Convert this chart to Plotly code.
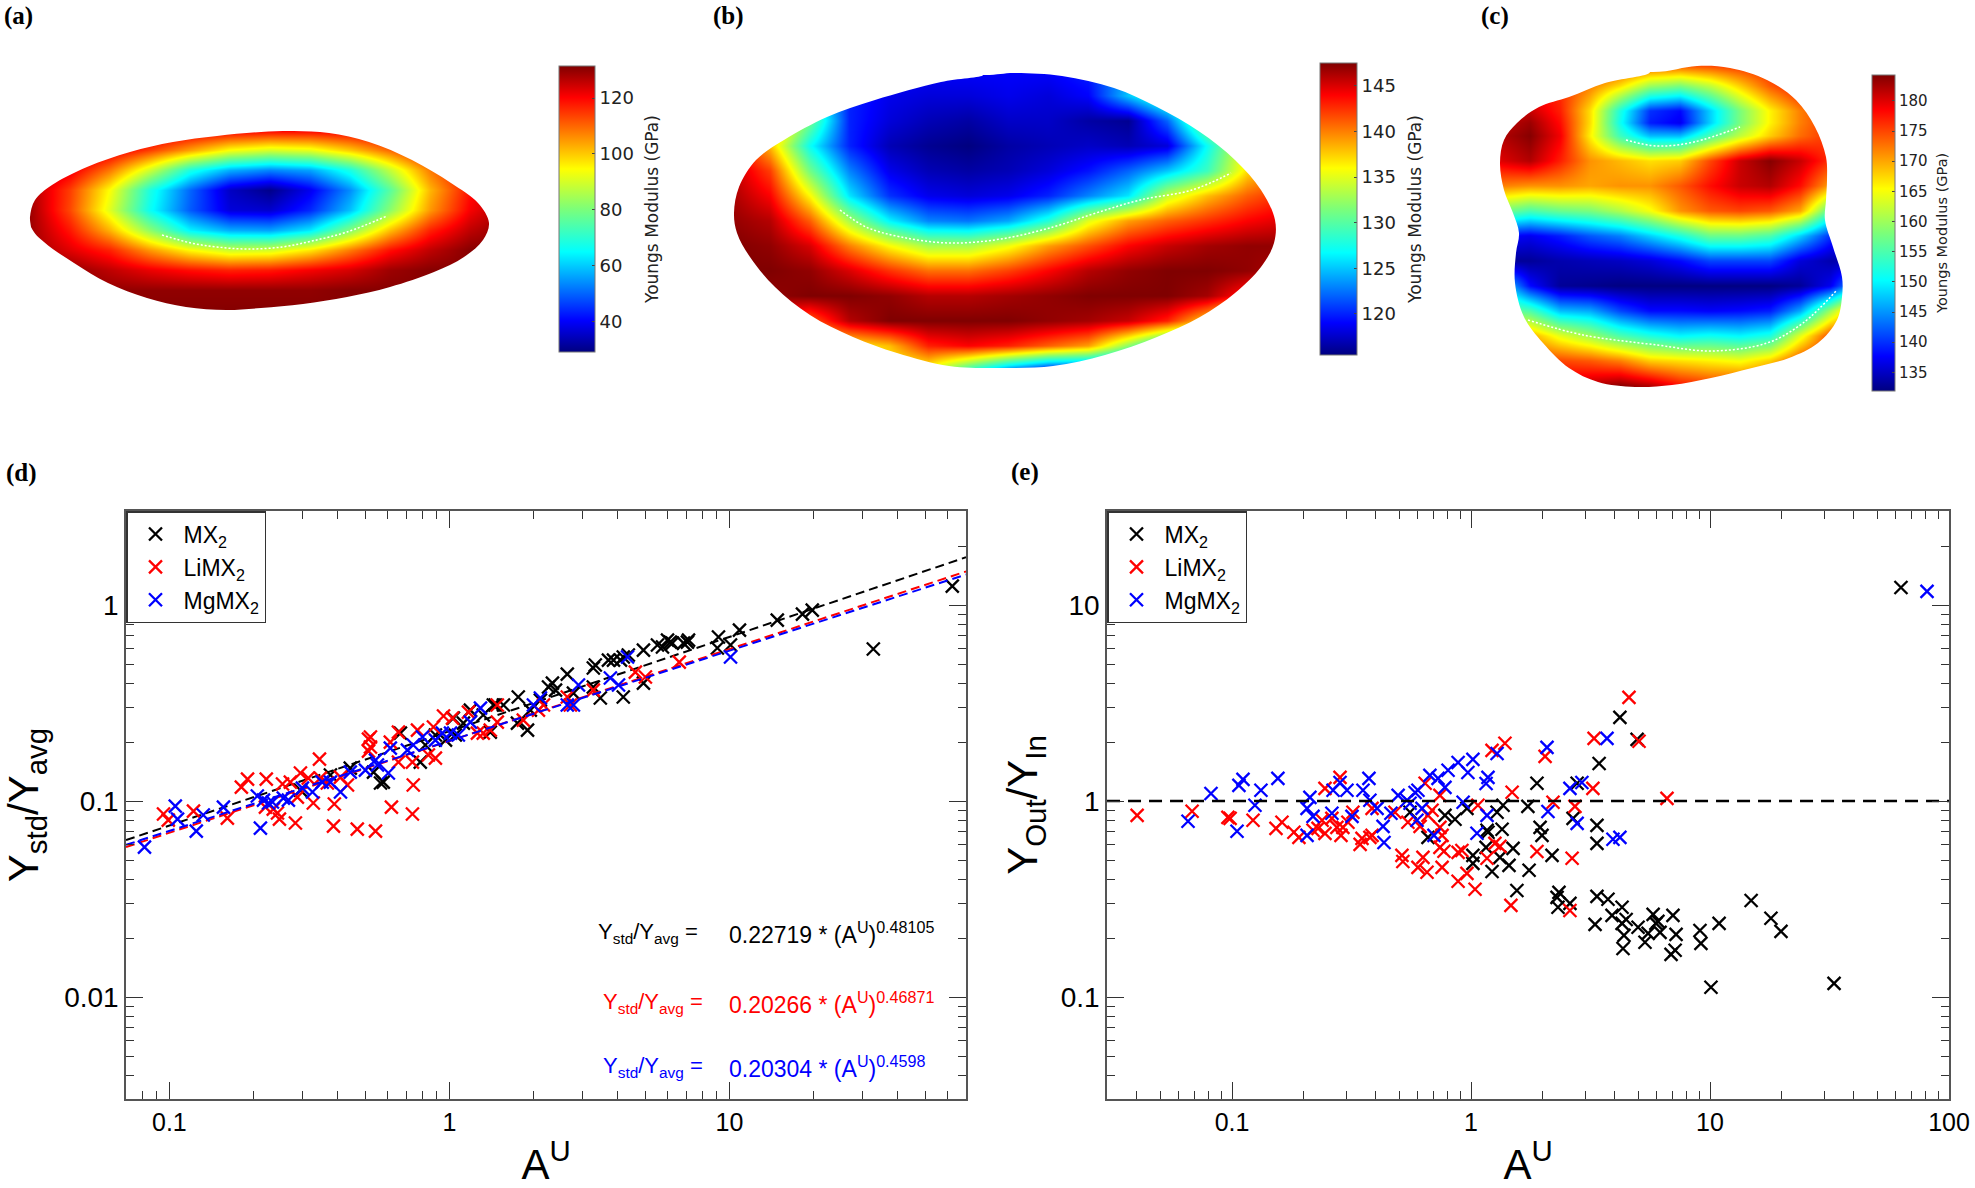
import numpy as np
import plotly.graph_objects as go

W, H = 1975, 1188

# jet colour map
jet = [[0, '#000080'], [0.11, '#0000ff'], [0.35, '#00ffff'], [0.5, '#7cff79'],
       [0.64, '#ffff00'], [0.89, '#ff0000'], [1, '#800000']]

# Top row: Young's modulus (GPa)
a_cols = [30, 70, 110, 150, 190, 230, 270, 310, 350, 390, 430, 470, 510]
a_rows = [130, 150, 170, 190, 210, 230, 250, 270, 290, 310]
a_z = [
    [131, 131, 130, 128, 124, 122, 121, 121, 122, 125, 129, 131, 131],
    [131, 129, 123, 114, 104, 94, 90, 92, 100, 110, 121, 127, 131],
    [129, 122, 108, 89, 68, 57, 53, 56, 68, 88, 108, 121, 129],
    [128, 114, 94, 68, 50, 35, 30, 39, 54, 76, 102, 119, 128],
    [129, 113, 91, 66, 49, 37, 36, 44, 59, 82, 105, 121, 129],
    [129, 118, 102, 82, 64, 57, 56, 63, 81, 101, 117, 126, 131],
    [129, 123, 117, 105, 95, 89, 90, 97, 108, 119, 126, 131, 131],
    [131, 130, 126, 122, 119, 117, 118, 121, 124, 129, 131, 131, 131],
    [131, 131, 130, 130, 130, 130, 130, 130, 131, 131, 131, 131, 131],
    [131, 131, 131, 131, 131, 131, 131, 131, 131, 131, 131, 131, 131],
]
a_edge_x = [30, 35, 52, 87, 130, 173, 217, 261, 294, 329, 369, 412, 451, 478, 489, 483, 464, 434, 390, 347, 303, 261, 226, 186, 147, 108, 74, 44, 31]
a_edge_y = [217, 200, 185, 167, 152, 142, 136, 132, 131, 133, 142, 160, 183, 203, 223, 240, 257, 272, 287, 297, 304, 308, 310, 307, 298, 283, 263, 242, 227]
a_seam_x = [162, 191, 217, 247, 282, 312, 347, 387]
a_seam_y = [235, 243, 247, 249, 247, 241, 232, 216]

b_cols = [730, 770, 810, 849, 889, 928, 968, 1008, 1048, 1088, 1128, 1167, 1207, 1247, 1287]
b_rows = [70, 95, 120, 145, 170, 195, 220, 245, 270, 295, 320, 345, 370]
b_z = [
    [136, 136, 125, 119, 119, 119, 119, 119, 119, 120, 124, 128, 130, 134, 136],
    [140, 136, 128, 120, 118.5, 118, 118, 118.5, 118, 119, 125, 130, 133, 136, 140],
    [143, 140, 131, 120, 118, 117, 116.5, 117.5, 117.5, 116.5, 116, 122, 133, 138, 142],
    [145, 138, 127, 120, 117, 116, 115.5, 116.5, 117, 117.5, 117, 118, 127, 136, 142],
    [146, 142, 131, 123, 118.5, 117, 116.5, 117, 118, 119.5, 122, 125, 129, 137, 141],
    [146.5, 144, 136, 126, 120.5, 118.5, 118, 118.5, 120, 123, 126, 134, 138, 141, 143],
    [147, 146, 141, 133, 126.5, 123, 122.5, 124, 128, 135, 139, 141, 142.5, 144, 145],
    [147.5, 147, 145, 140, 136, 133, 133, 135.5, 139, 141.5, 144, 145.5, 146.5, 147, 147],
    [147.5, 147.5, 147, 145, 142.5, 140.5, 140.5, 142, 144, 146, 147, 147.5, 147.5, 147, 146],
    [147, 147, 147.5, 147.5, 147, 146, 146, 146.5, 147, 147.5, 147.5, 147.5, 146.5, 143, 140],
    [145, 143, 141, 146, 147.5, 147.5, 147.5, 147.5, 147, 146.5, 145.5, 143, 137, 130, 130],
    [136, 136, 136, 136, 138, 143, 144, 143, 141, 139, 132, 125, 125, 125, 125],
    [135, 135, 135, 135, 135, 135, 128, 122, 118, 118, 118, 118, 118, 118, 118],
]
b_edge_x = [1014, 1062, 1114, 1157, 1200, 1235, 1261, 1275, 1274, 1261, 1235, 1200, 1157, 1105, 1053, 992, 949, 897, 853, 810, 775, 750, 737, 734, 739, 756, 784, 827, 875, 941, 983]
b_edge_y = [73, 76, 88, 107, 132, 160, 190, 220, 243, 267, 293, 317, 337, 355, 366, 368, 366, 353, 337, 315, 287, 257, 233, 213, 187, 160, 140, 117, 100, 82, 75]
b_seam_x = [840, 866, 901, 949, 1001, 1053, 1096, 1140, 1192, 1231]
b_seam_y = [210, 227, 237, 243, 239, 227, 213, 200, 190, 173]

c_cols = [1500, 1530, 1560, 1590, 1620, 1650, 1680, 1710, 1740, 1770, 1800, 1830, 1850]
c_rows = [60, 85, 110, 122, 135, 160, 185, 210, 235, 260, 285, 310, 335, 360, 385]
c_z = [
    [178, 178, 178, 178, 178, 178, 178, 178, 178, 178, 178, 178, 178],
    [178, 178, 176, 172, 167, 160, 158, 162, 168, 174, 178, 178, 178],
    [180, 181, 177, 167, 152, 140, 138, 148, 158, 166, 172, 176, 176],
    [181, 183, 178, 167, 151, 139, 137, 148, 158, 166, 172, 176, 176],
    [182, 184, 179, 166, 154, 147, 147, 155, 162, 168, 173, 176, 176],
    [180, 182, 177, 171, 169, 167, 168, 175, 181, 184, 181, 176, 176],
    [172, 171, 171, 170, 171, 171, 174, 178, 181, 182, 178, 170, 170],
    [158, 155, 157, 158, 161, 165, 171, 174, 175, 174, 170, 155, 150],
    [138, 137, 139, 142, 144, 148, 152, 157, 157, 155, 148, 140, 138],
    [133, 133, 134, 134.5, 135, 136, 138, 141, 141, 141, 136, 134, 134],
    [150, 138, 133, 132.5, 132, 132, 132, 132, 132, 132, 133, 137, 145],
    [158, 155, 147, 146, 141, 138, 138, 137.5, 138, 139, 146, 160, 170],
    [170, 170, 164, 160, 155, 152, 150, 151, 150, 152, 164, 175, 175],
    [175, 175, 175, 174, 172, 168, 167, 166, 165, 168, 175, 178, 178],
    [180, 180, 181, 182, 184, 182, 178, 176, 176, 176, 176, 176, 176],
]
c_edge_x = [1697, 1730, 1767, 1796, 1815, 1826, 1827, 1826, 1825, 1833, 1842, 1842, 1837, 1818, 1789, 1752, 1711, 1672, 1635, 1598, 1569, 1543, 1524, 1515, 1516, 1519, 1513, 1504, 1500, 1504, 1517, 1539, 1569, 1605, 1650]
c_edge_y = [66, 68, 80, 100, 127, 157, 180, 200, 220, 247, 277, 297, 320, 343, 358, 368, 378, 385, 387, 382, 368, 343, 317, 283, 253, 233, 213, 190, 163, 140, 123, 107, 97, 83, 72]
c_seam1_x = [1626, 1657, 1694, 1740]
c_seam1_y = [140, 146, 142, 127]
c_seam2_x = [1528, 1583, 1657, 1711, 1767, 1803, 1837]
c_seam2_y = [320, 335, 345, 351, 343, 323, 290]

a_ticks = [40, 60, 80, 100, 120]
b_ticks = [120, 125, 130, 135, 140, 145]
c_ticks = [135, 140, 145, 150, 155, 160, 165, 170, 175, 180]

# Panel (d): log10 of A^U and of Ystd/Yavg
d_black_lx = [1.796, 1.514, 1.296, 1.261, 1.171, 1.036, .961, .957, 1.004, .85, .836, .854, .789, .779, .796, .743, .761, .693, .639, .621, .611, .586, .568, .521, .514, .421, .368, .354, .379, .246, .193, .164, .289, .325, .243, .279, .539, .621, .693, .514, .443, .146, -.175, -.236, -.271, -.104, -.014, .014, .075, .157, .05, .121, -.425, -.354, -.086, -.05, .021, -.246, -.532]
d_black_ly = [.097, -.224, -.026, -.046, -.077, -.128, -.163, -.219, -.204, -.189, -.194, -.179, -.189, -.179, -.194, -.204, -.214, -.23, -.255, -.265, -.281, -.281, -.281, -.306, -.321, -.352, -.398, -.418, -.434, -.469, -.51, -.51, -.536, -.485, -.602, -.638, -.474, -.469, -.398, -.418, -.449, -.648, -.653, -.903, -.852, -.801, -.689, -.577, -.536, -.51, -.602, -.561, -.867, -.832, -.714, -.663, -.663, -.908, -.944]
d_red_lx = [-1.021, -1.004, -.914, -.793, -.743, -.721, -.654, -.657, -.629, -.607, -.614, -.55, -.596, -.568, -.532, -.504, -.464, -.486, -.414, -.411, -.329, -.264, -.364, -.289, -.289, -.543, -.461, -.389, -.436, -.129, -.05, -.075, -.132, -.182, -.211, -.182, -.114, -.057, -.021, .011, .068, .171, .171, .121, .146, -.282, -.282, .264, .318, .421, .514, .432, .1, .336, .664, .7, .821, -.207, -.132]
d_red_ly = [-1.066, -1.097, -1.051, -1.087, -.929, -.888, -.888, -1.031, -1.041, -1.092, -1.061, -1.112, -.913, -.903, -.857, -.883, -.786, -1.01, -1.128, -1.015, -1.143, -1.153, -.918, -.684, -.745, -.98, -.883, -.878, -.908, -.918, -.781, -.765, -.801, -.801, -.699, -.648, -.638, -.622, -.566, -.577, -.546, -.51, -.597, -.653, -.638, -.673, -.724, -.587, -.536, -.469, -.434, -.51, -.653, -.51, -.342, -.367, -.291, -1.031, -1.066]
d_blue_lx = [-1.089, -.979, -.971, -.904, -.879, -.807, -.675, -.686, -.664, -.646, -.632, -.593, -.575, -.525, -.489, -.454, -.425, -.389, -.354, -.3, -.257, -.264, -.218, -.211, -.15, -.129, -.096, -.05, -.025, .004, .032, .075, .111, .3, .325, .421, .443, .461, .575, .604, .636, 1.004]
d_blue_ly = [-1.235, -1.026, -1.092, -1.153, -1.071, -1.031, -1.138, -.974, -.995, -1.01, -1.005, -.985, -.995, -.934, -.954, -.903, -.903, -.954, -.852, -.842, -.816, -.791, -.857, -.73, -.74, -.714, -.673, -.689, -.653, -.653, -.663, -.597, -.526, -.51, -.474, -.51, -.51, -.408, -.372, -.408, -.265, -.265]

fit_x = [0.07, 70]
fit_black = [0.0632, 1.754]
fit_red = [0.0583, 1.484]
fit_blue = [0.0598, 1.431]

# Panel (e): log10 of A^U and of YOut/YIn
e_black_lx = [-.255, -.109, -.067, -.18, -.017, .067, .071, .13, .063, .008, .008, .121, .159, .088, .176, .238, .134, .109, .276, .289, .297, .339, .243, .192, .368, .36, .364, .414, .427, .444, .527, .527, .527, .573, .59, .536, 1.799, .623, .695, .632, .519, .649, .632, .699, .762, .782, .774, .791, .741, .845, .858, .728, .64, .636, .854, .837, .958, .962, 1.038, 1.172, 1.255, 1.297, 1.004, 1.519]
e_black_ly = [-.057, -.073, -.093, -.185, -.037, -.149, -.159, -.144, -.236, -.277, -.318, -.287, -.328, -.359, -.241, -.027, -.021, -.057, .091, -.134, -.175, -.277, -.353, -.456, -.466, -.491, -.542, -.522, -.088, .091, -.124, -.216, -.486, -.501, -.583, .192, 1.09, .427, .315, -.542, -.629, -.604, -.624, -.644, -.578, -.614, -.624, -.67, -.675, -.583, -.68, -.72, -.685, -.752, -.761, -.782, -.66, -.726, -.624, -.507, -.598, -.665, -.95, -.93]
e_red_lx = [-1.397, -1.167, -1.008, -1.017, -.912, -.816, -.791, -.741, -.72, -.661, -.64, -.623, -.611, -.611, -.548, -.582, -.544, -.561, -.515, -.494, -.456, -.464, -.414, -.423, -.289, -.285, -.318, -.414, -.536, -.192, -.13, -.264, -.213, -.18, -.163, -.13, -.121, -.13, -.113, -.054, -.038, -.017, -.054, .017, -.121, -.184, -.222, -.201, .029, .088, .142, .172, .1, .121, .067, .276, .167, .31, .343, .435, .51, .515, .423, .414, .661, .703, .82]
e_red_ly = [-.073, -.052, -.088, -.083, -.098, -.139, -.108, -.159, -.185, -.149, -.139, -.098, -.165, .065, .121, -.088, -.175, -.134, -.108, -.057, -.19, -.221, -.175, -.185, -.277, -.308, -.057, -.037, -.134, .091, .029, -.108, -.129, -.073, -.047, -.134, -.175, -.236, -.256, -.262, -.252, -.369, -.409, -.45, -.338, -.363, -.338, -.287, -.021, .259, .295, .045, -.216, -.231, -.292, -.257, -.532, .228, -.006, -.027, .065, .32, -.292, -.558, .529, .305, .014]
e_blue_lx = [-1.184, -1.088, -.979, -.971, -.954, -.904, -.879, -.808, -.686, -.686, -.674, -.661, -.582, -.577, -.548, -.519, -.498, -.427, -.452, -.423, -.393, -.368, -.364, -.335, -.305, -.268, -.255, -.222, -.234, -.205, -.226, -.155, -.172, -.138, -.109, -.096, -.054, -.013, .008, -.033, .067, .025, .063, .071, .109, .318, .322, .414, .464, .444, .569, .594, .623, 1.908]
e_blue_ly = [-.103, .039, -.154, .08, .111, -.021, .055, .116, -.175, -.037, .019, -.078, -.062, .055, .095, .055, -.078, .116, .055, .004, -.037, -.129, -.211, -.062, .029, .004, -.011, .055, .044, -.037, -.098, -.175, .131, .116, .07, .157, .197, .146, .213, -.006, -.073, -.164, .09, .121, .243, .274, -.053, .065, .095, -.114, .32, -.195, -.185, 1.07]

unity_x = [0.03, 100]
unity_y = [1, 1]

x_major_d = [0.1, 1, 10]
y_major_d = [0.01, 0.1, 1]
x_major_e = [0.1, 1, 10, 100]
y_major_e = [0.1, 1, 10]
minor_digits = [2, 3, 4, 5, 6, 7, 8, 9]
minor_vals = [d * 10.0 ** e for e in [-3, -2, -1, 0, 1] for d in minor_digits]


def px(v):
    return v / W


def py(v):
    return 1 - v / H


def pow10(vals):
    return 10 ** np.array(vals)


def mask_path(edge_x, edge_y, x0, x1, y0, y1):
    # white frame around the outline, the outline runs the other way to leave a hole
    xs = [x0, x1, x1, x0, x0] + edge_x[::-1] + [edge_x[-1], x0]
    ys = [y0, y0, y1, y1, y0] + edge_y[::-1] + [edge_y[-1], y0]
    return xs, ys


fig = go.Figure()


def add_surface(cols, rows, z, edge_x, edge_y, box, zmin, zmax, ticks, bar, font):
    fig.add_trace(go.Heatmap(x=cols, y=rows, z=z, xaxis='x3', yaxis='y3', zsmooth='best',
                             colorscale=jet, zmin=zmin, zmax=zmax,
                             colorbar=dict(x=px(bar[0]), xanchor='left', thickness=bar[1] - bar[0],
                                           y=py(bar[3]), yanchor='bottom', len=bar[3] - bar[2],
                                           lenmode='pixels', xpad=0, ypad=0,
                                           tickvals=ticks, ticks='inside', ticklen=3, tickcolor='#444',
                                           tickfont=dict(family='DejaVu Sans', size=font, color='#222'),
                                           outlinecolor='#777', outlinewidth=1)))
    xs, ys = mask_path(edge_x, edge_y, *box)
    fig.add_trace(go.Scatter(x=xs, y=ys, mode='lines', fill='toself', fillcolor='white',
                             line=dict(width=0, shape='spline', smoothing=1), xaxis='x3', yaxis='y3',
                             showlegend=False, hoverinfo='skip'))


add_surface(a_cols, a_rows, a_z, a_edge_x, a_edge_y, (5, 535, 115, 325), 29, 131.5, a_ticks,
            (559, 595, 66, 352), 18)
add_surface(b_cols, b_rows, b_z, b_edge_x, b_edge_y, (705, 1312, 52, 385), 115.5, 147.5, b_ticks,
            (1320, 1357, 63, 355), 18)
add_surface(c_cols, c_rows, c_z, c_edge_x, c_edge_y, (1480, 1863, 40, 402), 131.9, 184.3, c_ticks,
            (1872, 1895, 75, 391), 15)

for sx, sy in [(a_seam_x, a_seam_y), (b_seam_x, b_seam_y), (c_seam1_x, c_seam1_y), (c_seam2_x, c_seam2_y)]:
    fig.add_trace(go.Scatter(x=sx, y=sy, mode='lines', line=dict(color='white', width=1.5, dash='2px,2px', shape='spline'),
                             xaxis='x3', yaxis='y3', showlegend=False, hoverinfo='skip'))


def add_cross(lx, ly, color, name, xa, ya, legend):
    fig.add_trace(go.Scatter(x=pow10(lx), y=pow10(ly), mode='markers', name=name, xaxis=xa, yaxis=ya,
                             legend=legend,
                             marker=dict(symbol='x-thin', size=13, line=dict(color=color, width=2.3))))


def add_fit(vals, color):
    fig.add_trace(go.Scatter(x=fit_x, y=vals, mode='lines', showlegend=False, xaxis='x', yaxis='y',
                             line=dict(color=color, width=2, dash='9px,5px')))


add_cross(d_black_lx, d_black_ly, 'black', 'MX<sub>2</sub>', 'x', 'y', 'legend')
add_fit(fit_black, 'black')
add_cross(d_red_lx, d_red_ly, '#ff0000', 'LiMX<sub>2</sub>', 'x', 'y', 'legend')
add_fit(fit_red, '#ff0000')
add_cross(d_blue_lx, d_blue_ly, '#0000ff', 'MgMX<sub>2</sub>', 'x', 'y', 'legend')
add_fit(fit_blue, '#0000ff')

add_cross(e_black_lx, e_black_ly, 'black', 'MX<sub>2</sub>', 'x2', 'y2', 'legend2')
add_cross(e_red_lx, e_red_ly, '#ff0000', 'LiMX<sub>2</sub>', 'x2', 'y2', 'legend2')
add_cross(e_blue_lx, e_blue_ly, '#0000ff', 'MgMX<sub>2</sub>', 'x2', 'y2', 'legend2')
fig.add_trace(go.Scatter(x=unity_x, y=unity_y, mode='lines', showlegend=False, xaxis='x2', yaxis='y2',
                         line=dict(color='black', width=2.5, dash='13px,8px')))

axis_font = 'Liberation Sans'
axis_color = '#555'


def log_axis(major, dom, rng, size, anchor, title, standoff):
    return dict(type='log', domain=dom, range=rng, anchor=anchor, tickmode='array', tickvals=major,
                ticktext=[str(v) for v in major], ticks='inside', ticklen=17, tickwidth=1.2,
                tickcolor='#333', showline=True, linecolor=axis_color, linewidth=1.5, mirror='ticks',
                showgrid=False, zeroline=False, tickfont=dict(family=axis_font, size=size, color='black'),
                minor=dict(ticks='inside', ticklen=8, tickwidth=1.2, tickcolor='#333', tickmode='array',
                           tickvals=minor_vals, showgrid=False),
                title=dict(text=title, font=dict(family=axis_font, size=42, color='black'), standoff=standoff))


d_xdom = [px(126), px(966)]
e_xdom = [px(1107), px(1949)]
row_dom = [py(1099), py(511)]

legend_style = dict(xanchor='left', yanchor='top', bgcolor='white', bordercolor='#333', borderwidth=1.5,
                    font=dict(family=axis_font, size=23, color='black'), tracegroupgap=0, itemwidth=46)

fig.update_layout(
    width=W, height=H, autosize=False, margin=dict(l=0, r=0, t=0, b=0, autoexpand=False),
    paper_bgcolor='white', plot_bgcolor='rgba(0,0,0,0)',
    xaxis=log_axis(x_major_d, d_xdom, [-1.155, 1.845], 25, 'y', 'A<sup>U</sup>', 21),
    yaxis=log_axis(y_major_d, row_dom, [-2.52, 0.48], 28, 'x', 'Y<sub>std</sub>/Y<sub>avg</sub>', 13),
    xaxis2=log_axis(x_major_e, e_xdom, [-1.523, 2.0], 25, 'y2', 'A<sup>U</sup>', 21),
    yaxis2=log_axis(y_major_e, row_dom, [-1.52, 1.48], 28, 'x2', 'Y<sub>Out</sub>/Y<sub>In</sub>', 10),
    xaxis3=dict(domain=[0, 1], range=[0, W], visible=False, anchor='y3', fixedrange=True),
    yaxis3=dict(domain=[0, 1], range=[H, 0], visible=False, anchor='x3', fixedrange=True),
    legend=dict(x=px(126), y=py(511), **legend_style),
    legend2=dict(x=px(1107), y=py(511), **legend_style),
)

# panel letters
panel_letters = ['(a)', '(b)', '(c)', '(d)', '(e)']
letter_x = [18, 728, 1495, 21, 1025]
letter_y = [16, 16, 16, 473, 472]
for txt, lx_, ly_ in zip(panel_letters, letter_x, letter_y):
    fig.add_annotation(text='<b>%s</b>' % txt, x=px(lx_), y=py(ly_), xref='paper', yref='paper', showarrow=False,
                       xanchor='center', yanchor='middle',
                       font=dict(family='Liberation Serif', size=25, color='black'))

# colour bar captions
bar_title = 'Youngs Modulus (GPa)'
for cx, cy, size in [(652, 210, 17), (1415, 210, 17), (1942, 234, 14.5)]:
    fig.add_annotation(text=bar_title, x=px(cx), y=py(cy), xref='paper', yref='paper', showarrow=False, textangle=-90,
                       xanchor='center', yanchor='middle',
                       font=dict(family='DejaVu Sans', size=size, color='#222'))

# fit equations
fit_lhs = 'Y<sub>std</sub>/Y<sub>avg</sub> ='
fit_rhs = ['0.22719 * (A<sup>U</sup>)<sup>0.48105</sup>', '0.20266 * (A<sup>U</sup>)<sup>0.46871</sup>',
           '0.20304 * (A<sup>U</sup>)<sup>0.4598</sup>']
fit_colors = ['black', '#ff0000', '#0000ff']
fit_ypos = [933, 1003, 1067]
fit_lhs_x = [596, 601, 601]
for rhs, col, yy, xx in zip(fit_rhs, fit_colors, fit_ypos, fit_lhs_x):
    fig.add_annotation(text=fit_lhs, x=px(xx), y=py(yy), xref='paper', yref='paper', showarrow=False, xanchor='left',
                       yanchor='middle', font=dict(family=axis_font, size=22, color=col))
    fig.add_annotation(text=rhs, x=px(727), y=py(yy), xref='paper', yref='paper', showarrow=False, xanchor='left',
                       yanchor='middle', font=dict(family=axis_font, size=23, color=col))

fig.write_html("out.html", post_script="document.body.style.margin='0';", config=dict(displayModeBar=False))
